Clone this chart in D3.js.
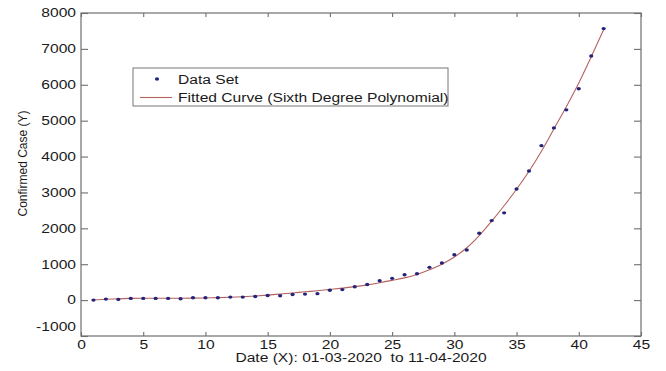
<!DOCTYPE html>
<html>
<head>
<meta charset="utf-8">
<script src="https://cdn.jsdelivr.net/npm/d3@7"></script>
<style>
    body { margin: 0; background: #fff; }
    text { font-family: "Liberation Sans", Arial, sans-serif; fill: #1a1a1a; }
</style>
</head>
<body>
<script>
// confirmed cases with sixth degree polynomial fit, drawn with d3

//day index (X) from 01-03-2020 to 11-04-2020
var days = [1,2,3,4,5,6,7,8,9,10,11,12,13,14,15,16,17,18,19,20,21,
            22,23,24,25,26,27,28,29,30,31,32,33,34,35,36,37,38,39,40,41,42];

//confirmed cases
var cases = [0,28,20,47,47,47,47,37,65,65,65,84,84,102,130,121,158,168,180,275,293,
             372,435,540,606,708,735,913,1034,1266,1397,1864,2216,2431,3094,3597,4304,4799,5302,5889,6800,7566];

//fitted curve at each day
var fitCases = [5,25,40,48,52,53,53,53,55,60,68,80,95,115,140,170,200,232,262,298,335,
                375,425,484,550,620,715,845,1000,1200,1460,1800,2200,2630,3090,3590,4150,4770,5390,6050,6780,7540];

var xTicks = [0,5,10,15,20,25,30,35,40,45];
var yTicks = [-1000,0,1000,2000,3000,4000,5000,6000,7000,8000];

var legendLabels = ["Data Set", "Fitted Curve (Sixth Degree Polynomial)"];
var xTitle = "Date (X): 01-03-2020  to 11-04-2020";
var yTitle = "Confirmed Case (Y)";

window.onload = drawChart();

function drawChart(){
    var width = 666,
        height = 371;

    var left = 81, right = 641, top = 13, bottom = 336;
    var stretch = 1.3; //the picture is wider than tall, text looks stretched

    //plain numbers, hyphen minus, no thousands comma
    var plain = function(d){ return String(d); };

    var svg = d3.select("body")
        .append("svg")
        .attr("width", width)
        .attr("height", height);

    var x = d3.scaleLinear().domain([0, 45]).range([left, right]);
    var y = d3.scaleLinear().domain([-1000, 8000]).range([bottom, top]);

    //frame
    svg.append("rect")
        .attr("x", left)
        .attr("y", top)
        .attr("width", right - left)
        .attr("height", bottom - top)
        .attr("fill", "#fff")
        .attr("stroke", "#6f6f6f")
        .attr("stroke-width", 1.2);

    //bottom axis with labels
    var xAxis = svg.append("g")
        .attr("transform", "translate(0," + bottom + ")")
        .call(d3.axisBottom(x).tickValues(xTicks).tickFormat(plain).tickSizeInner(-4).tickSizeOuter(0).tickPadding(4));

    //top axis, ticks only
    svg.append("g")
        .attr("transform", "translate(0," + top + ")")
        .call(d3.axisTop(x).tickValues(xTicks).tickSizeInner(-4).tickSizeOuter(0).tickFormat(""));

    //left axis with labels
    var yAxis = svg.append("g")
        .attr("transform", "translate(" + left + ",0)")
        .call(d3.axisLeft(y).tickValues(yTicks).tickFormat(plain).tickSizeInner(-7).tickSizeOuter(0).tickPadding(5));

    //right axis, ticks only
    svg.append("g")
        .attr("transform", "translate(" + right + ",0)")
        .call(d3.axisRight(y).tickValues(yTicks).tickSizeInner(-7).tickSizeOuter(0).tickFormat(""));

    svg.selectAll(".domain").remove();
    svg.selectAll(".tick line").attr("stroke", "#6f6f6f").attr("stroke-width", 1.1);
    svg.selectAll(".tick text").attr("font-size", 12).attr("fill", "#1a1a1a")
        .attr("font-family", "Liberation Sans, Arial, sans-serif");

    //matlab lifts the lowest y label off the x axis
    yAxis.selectAll(".tick text")
        .filter(function(d){ return d === -1000; })
        .attr("dy", "-0.5em");

    //fitted curve
    var line = d3.line()
        .x(function(d, i){ return x(days[i]); })
        .y(function(d){ return y(d); })
        .curve(d3.curveMonotoneX);

    svg.append("path")
        .datum(fitCases)
        .attr("d", line)
        .attr("fill", "none")
        .attr("stroke", "#b4625e")
        .attr("stroke-width", 1.1);

    //data set markers
    svg.selectAll(".dot")
        .data(cases)
        .enter()
        .append("ellipse")
        .attr("class", "dot")
        .attr("cx", function(d, i){ return x(days[i]); })
        .attr("cy", function(d){ return y(d); })
        .attr("rx", 2.1)
        .attr("ry", 1.7)
        .attr("fill", "#24237a");

    //legend
    var legend = svg.append("g").attr("class", "legend");
    legend.append("rect")
        .attr("x", 133)
        .attr("y", 68)
        .attr("width", 315)
        .attr("height", 38)
        .attr("fill", "#fff")
        .attr("stroke", "#777")
        .attr("stroke-width", 1);
    legend.append("ellipse")
        .attr("cx", 157)
        .attr("cy", 79)
        .attr("rx", 2.1)
        .attr("ry", 1.7)
        .attr("fill", "#24237a");
    legend.append("line")
        .attr("x1", 140)
        .attr("x2", 172)
        .attr("y1", 97.5)
        .attr("y2", 97.5)
        .attr("stroke", "#b4625e")
        .attr("stroke-width", 1.1);
    legend.selectAll(".legendText")
        .data(legendLabels)
        .enter()
        .append("text")
        .attr("class", "legendText")
        .attr("x", 178)
        .attr("y", function(d, i){ return 83.5 + i * 18; })
        .attr("font-size", 12)
        .text(function(d){ return d; });

    //axis titles
    svg.append("text")
        .attr("class", "xTitle")
        .attr("x", (left + right) / 2)
        .attr("y", 362)
        .attr("text-anchor", "middle")
        .attr("font-size", 12)
        .style("white-space", "pre")
        .text(xTitle);

    svg.append("text")
        .attr("transform", "translate(27," + 163.5 + ") rotate(-90)")
        .attr("text-anchor", "middle")
        .attr("font-size", 12)
        .text(yTitle);

    //widen horizontal texts like in the picture
    stretchText(svg.selectAll(".tick text, .legendText, .xTitle"), stretch);
};

function stretchText(sel, k){
    sel.each(function(){
        var w = this.getComputedTextLength();
        d3.select(this)
            .attr("textLength", w * k)
            .attr("lengthAdjust", "spacingAndGlyphs");
    });
};
</script>
</body>
</html>
